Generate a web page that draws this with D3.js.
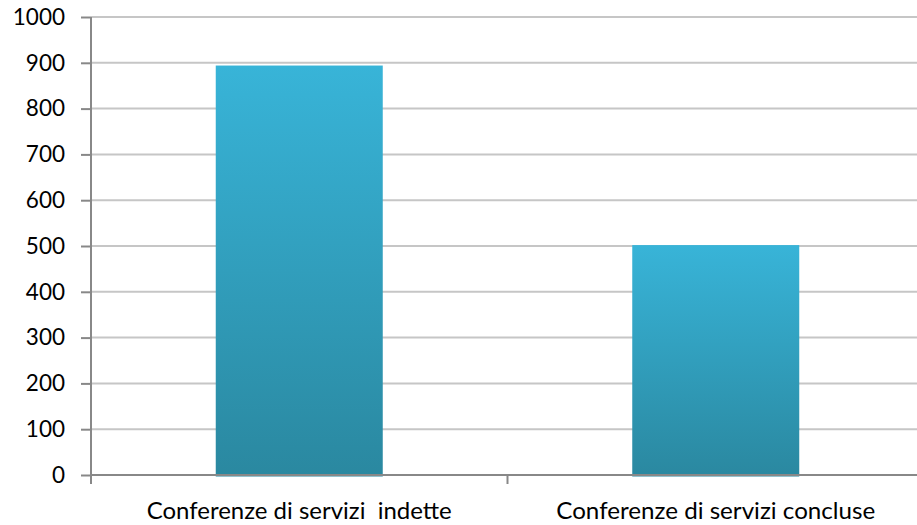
<!DOCTYPE html>
<html><head><meta charset="utf-8">
<script src="https://cdn.jsdelivr.net/npm/d3@7"></script>
<style>body{margin:0;background:#fff}svg{display:block}</style>
</head><body>
<script>
const categories = ["Conferenze di servizi  indette", "Conferenze di servizi concluse"];
const values = [894, 502];
const yTicks = [0,100,200,300,400,500,600,700,800,900,1000];

const W = 917, H = 525;
const m = {left: 91, top: 17, right: -7, bottom: 50};
const svg = d3.select("body").append("svg").attr("width", W).attr("height", H);

const x = d3.scaleBand().domain(categories).range([m.left, W - m.right]).paddingInner(0).paddingOuter(0);
const y = d3.scaleLinear().domain([0, 1000]).range([475, 17]);

const defs = svg.append("defs");
const g = defs.append("linearGradient").attr("id","bg").attr("x1",0).attr("x2",0).attr("y1",0).attr("y2",1);
g.append("stop").attr("offset","0%").attr("stop-color","#38b4d8");
g.append("stop").attr("offset","100%").attr("stop-color","#2a88a0");

// gridlines
svg.append("g").selectAll("line").data(yTicks.filter(d=>d>0)).join("line")
  .attr("x1", m.left).attr("x2", W).attr("y1", d=>y(d)).attr("y2", d=>y(d))
  .attr("stroke", "#c6c6c6").attr("stroke-width", 2);

// bars
const bw = 167;
svg.append("g").selectAll("rect").data(values).join("rect")
  .attr("x", (d,i)=> x(categories[i]) + x.bandwidth()/2 - bw/2)
  .attr("width", bw)
  .attr("y", d=>y(d))
  .attr("height", d=> y(0) - y(d) + 1.5)
  .attr("fill", "url(#bg)");

// y axis
const ya = svg.append("g").attr("transform", `translate(${m.left},0)`)
  .call(d3.axisLeft(y).tickValues(yTicks).tickSize(10).tickPadding(16).tickFormat(d3.format("d")));
ya.select(".domain").attr("stroke","#888").attr("stroke-width",2).attr("d", `M0,${y(1000)}V${y(0)+8}`);
ya.selectAll(".tick line").attr("stroke","#888").attr("stroke-width",2);
ya.selectAll("text").attr("font-family","Lato, 'Open Sans', sans-serif").attr("font-size",22.5).attr("fill","#000");

// x axis
const xa = svg.append("g").attr("transform", `translate(0,${y(0)})`)
  .call(d3.axisBottom(x).tickSize(0).tickPadding(0));
xa.select(".domain").attr("stroke","#888").attr("stroke-width",2).attr("d", `M${m.left},0H${W}`);
xa.selectAll(".tick text").remove();
svg.append("g").selectAll("line").data([m.left, x(categories[1])]).join("line")
  .attr("x1", d=>d).attr("x2", d=>d).attr("y1", y(0)).attr("y2", y(0)+9)
  .attr("stroke","#888").attr("stroke-width",2);

const lw = [305, 319];
svg.append("g").selectAll("text").data(categories).join("text")
  .attr("x", d=> x(d) + x.bandwidth()/2)
  .attr("y", 519)
  .attr("text-anchor","middle")
  .attr("font-family","Lato, 'Open Sans', sans-serif")
  .attr("font-size",23)
  .attr("textLength", (d,i)=>lw[i])
  .attr("lengthAdjust","spacingAndGlyphs")
  .style("white-space","pre")
  .attr("xml:space","preserve")
  .text(d=>d);
</script>
</body></html>
